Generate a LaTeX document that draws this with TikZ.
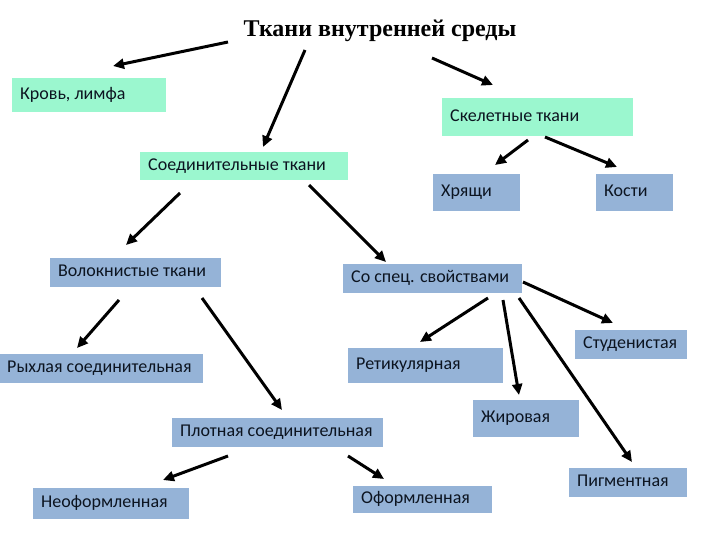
\documentclass[tikz,border=0pt]{standalone}
\usepackage{fontspec}
\setmainfont{Carlito}
\newfontfamily\titlefont{Liberation Serif}
\usetikzlibrary{arrows.meta}
\definecolor{boxgreen}{HTML}{9BF7CF}
\definecolor{boxblue}{HTML}{95B3D7}
\definecolor{txt}{HTML}{0C1420}
\tikzset{
  bx/.style={draw=none, fill=#1, anchor=north west, inner xsep=8pt, inner ysep=0pt,
    text=txt, font=\fontsize{18}{20}\selectfont},
  arr/.style={line width=3pt, -{Triangle[length=11pt,width=10pt]}},
}
\newcommand\bxt[2]{\hbox to #1pt{\strut #2\hss}}
\begin{document}
\begin{tikzpicture}[x=1pt,y=-1pt]
\useasboundingbox (0,0) rectangle (720,540);
\node[font=\titlefont\bfseries\fontsize{24}{26}\selectfont] (title) at (380,31) {Ткани внутренней среды};
\node[bx=boxgreen, minimum height=34pt] (krov) at (12,78) {\bxt{138}{Кровь, лимфа}};
\node[bx=boxgreen, minimum height=28pt] (soed) at (140,152) {\bxt{192}{Соединительные ткани}};
\node[bx=boxgreen, minimum height=38pt] (skel) at (442,98) {\bxt{175}{Скелетные ткани}};
\node[bx=boxblue, minimum height=37pt] (hryash) at (433,174) {\bxt{71}{Хрящи}};
\node[bx=boxblue, minimum height=37pt] (kosti) at (596,174) {\bxt{61}{Кости}};
\node[bx=boxblue, minimum height=29pt] (volok) at (50,258) {\bxt{155}{Волокнистые ткани}};
\node[bx=boxblue, minimum height=29pt, inner xsep=7pt] (ryhl) at (0,354) {\bxt{189}{Рыхлая соединительная}};
\node[bx=boxblue, minimum height=29pt] (spec) at (343,264) {\bxt{163}{Со спец. свойствами}};
\node[bx=boxblue, minimum height=29pt] (stud) at (575,330) {\bxt{96}{Студенистая}};
\node[bx=boxblue, minimum height=35pt] (retik) at (348,348) {\bxt{139}{Ретикулярная}};
\node[bx=boxblue, minimum height=37pt] (zhir) at (473,400) {\bxt{90}{Жировая}};
\node[bx=boxblue, minimum height=29pt] (plot) at (172,418) {\bxt{195}{Плотная соединительная}};
\node[bx=boxblue, minimum height=31pt] (neof) at (33,488) {\bxt{140}{Неоформленная}};
\node[bx=boxblue, minimum height=27pt] (oform) at (353,486) {\bxt{123}{Оформленная}};
\node[bx=boxblue, minimum height=29pt] (pigm) at (569,468) {\bxt{102}{Пигментная}};
\draw[arr] ([shift={(-152,11)}]title.center) -- ([shift={(101,-12)}]krov.north west);
\draw[arr] ([shift={(-75,19)}]title.center) -- ([shift={(123,-5)}]soed.north west);
\draw[arr] ([shift={(52,27)}]title.center) -- ([shift={(51,-13)}]skel.north west);
\draw[arr] ([shift={(86,42)}]skel.north west) -- ([shift={(62,-9)}]hryash.north west);
\draw[arr] ([shift={(103,39)}]skel.north west) -- ([shift={(21,-7)}]kosti.north west);
\draw[arr] ([shift={(40,41)}]soed.north west) -- ([shift={(76,-13)}]volok.north west);
\draw[arr] ([shift={(169,33)}]soed.north west) -- ([shift={(43,-2)}]spec.north west);
\draw[arr] ([shift={(69,42)}]volok.north west) -- ([shift={(77,-6)}]ryhl.north west);
\draw[arr] ([shift={(152,40)}]volok.north west) -- ([shift={(110,-8)}]plot.north west);
\draw[arr] ([shift={(145,34)}]spec.north west) -- ([shift={(72,-6)}]retik.north west);
\draw[arr] ([shift={(160,36)}]spec.north west) -- ([shift={(46,-5)}]zhir.north west);
\draw[arr] ([shift={(180,18)}]spec.north west) -- ([shift={(38,-7)}]stud.north west);
\draw[arr] ([shift={(176,34)}]spec.north west) -- ([shift={(63,-6)}]pigm.north west);
\draw[arr] ([shift={(56,38)}]plot.north west) -- ([shift={(130,-8)}]neof.north west);
\draw[arr] ([shift={(176,38)}]plot.north west) -- ([shift={(31,-7)}]oform.north west);
\end{tikzpicture}
\end{document}
